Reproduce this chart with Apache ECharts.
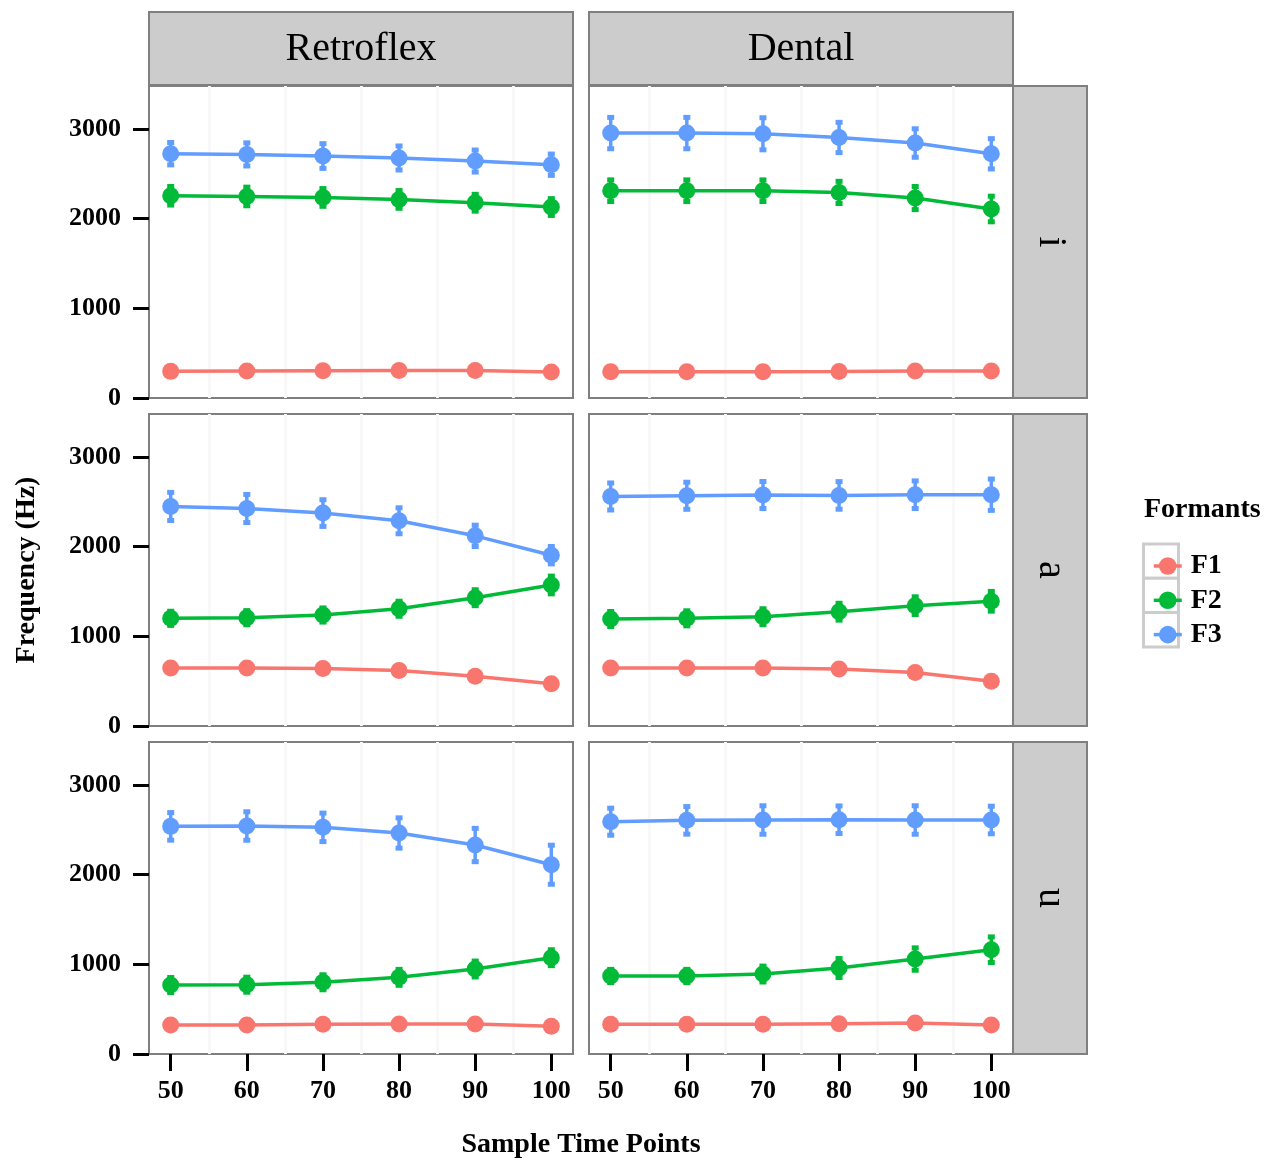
<!DOCTYPE html>
<html><head><meta charset="utf-8">
<script src="https://cdn.jsdelivr.net/npm/echarts@6/dist/echarts.min.js"></script>
<style>html,body{margin:0;padding:0;background:#fff}#c{width:1278px;height:1161px}</style>
</head><body><div id="c"></div>
<script>
// ---- data ----
const timePoints = [50, 60, 70, 80, 90, 100];
const places = ['Retroflex', 'Dental'];
const vowels = ['i', 'a', 'u'];
const formants = ['F1', 'F2', 'F3'];
const yTicks = [0, 1000, 2000, 3000];
const xTicks = [50, 60, 70, 80, 90, 100];
const minorGridX = [55, 65, 75, 85, 95];

// means (Hz)
const retroflexI_F1 = [297, 301, 304, 308, 308, 290];
const retroflexI_F2 = [2256, 2248, 2237, 2215, 2178, 2130];
const retroflexI_F3 = [2725, 2717, 2699, 2677, 2643, 2602];
const dentalI_F1 = [293, 292, 293, 296, 302, 300];
const dentalI_F2 = [2312, 2312, 2312, 2293, 2230, 2108];
const dentalI_F3 = [2955, 2955, 2947, 2906, 2844, 2724];
const retroflexA_F1 = [648, 648, 642, 619, 556, 470];
const retroflexA_F2 = [1201, 1208, 1238, 1308, 1431, 1573];
const retroflexA_F3 = [2449, 2426, 2375, 2289, 2121, 1905];
const dentalA_F1 = [648, 648, 648, 637, 597, 500];
const dentalA_F2 = [1193, 1201, 1219, 1275, 1342, 1391];
const dentalA_F3 = [2560, 2568, 2576, 2572, 2580, 2580];
const retroflexU_F1 = [323, 323, 331, 335, 335, 309];
const retroflexU_F2 = [769, 773, 800, 855, 948, 1074];
const retroflexU_F3 = [2539, 2543, 2528, 2465, 2331, 2111];
const dentalU_F1 = [331, 331, 331, 338, 346, 323];
const dentalU_F2 = [870, 870, 892, 959, 1059, 1163];
const dentalU_F3 = [2591, 2606, 2610, 2613, 2610, 2610];

// error half-widths (Hz)
const retroflexI_F1_err = [30, 30, 30, 30, 30, 30];
const retroflexI_F2_err = [115, 115, 110, 110, 105, 105];
const retroflexI_F3_err = [136, 140, 149, 145, 134, 130];
const dentalI_F1_err = [30, 30, 30, 30, 30, 30];
const dentalI_F2_err = [132, 132, 132, 135, 140, 154];
const dentalI_F3_err = [186, 186, 190, 180, 170, 180];
const retroflexA_F1_err = [30, 30, 30, 30, 30, 30];
const retroflexA_F2_err = [90, 90, 90, 95, 100, 110];
const retroflexA_F3_err = [168, 168, 160, 156, 130, 108];
const dentalA_F1_err = [30, 30, 30, 30, 30, 30];
const dentalA_F2_err = [95, 95, 100, 105, 110, 121];
const dentalA_F3_err = [162, 162, 162, 165, 165, 186];
const retroflexU_F1_err = [30, 30, 30, 30, 30, 30];
const retroflexU_F2_err = [95, 95, 95, 100, 100, 100];
const retroflexU_F3_err = [165, 170, 170, 180, 197, 229];
const dentalU_F1_err = [30, 30, 30, 30, 30, 30];
const dentalU_F2_err = [85, 85, 100, 117, 136, 154];
const dentalU_F3_err = [162, 165, 170, 165, 170, 165];

// lookup tables built from the arrays above
const means = {
  Retroflex_i: [retroflexI_F1, retroflexI_F2, retroflexI_F3],
  Dental_i: [dentalI_F1, dentalI_F2, dentalI_F3],
  Retroflex_a: [retroflexA_F1, retroflexA_F2, retroflexA_F3],
  Dental_a: [dentalA_F1, dentalA_F2, dentalA_F3],
  Retroflex_u: [retroflexU_F1, retroflexU_F2, retroflexU_F3],
  Dental_u: [dentalU_F1, dentalU_F2, dentalU_F3]
};
const errs = {
  Retroflex_i: [retroflexI_F1_err, retroflexI_F2_err, retroflexI_F3_err],
  Dental_i: [dentalI_F1_err, dentalI_F2_err, dentalI_F3_err],
  Retroflex_a: [retroflexA_F1_err, retroflexA_F2_err, retroflexA_F3_err],
  Dental_a: [dentalA_F1_err, dentalA_F2_err, dentalA_F3_err],
  Retroflex_u: [retroflexU_F1_err, retroflexU_F2_err, retroflexU_F3_err],
  Dental_u: [dentalU_F1_err, dentalU_F2_err, dentalU_F3_err]
};

// ---- style / layout ----
const colors = ['#F8766D', '#00BA38', '#619CFF'];
const FONT = '"Liberation Serif", "Times New Roman", serif';
const colLeft = [149, 589];
const rowTop = [86, 414, 742];
const PW = 424, PH = 312;
const STRIP_RIGHT_X = 1013, STRIP_RIGHT_W = 74;

const grids = [], xAxes = [], yAxes = [], series = [], graphics = [];

vowels.forEach((v, r) => {
  places.forEach((p, c) => {
    const idx = r * 2 + c;
    grids.push({
      left: colLeft[c], top: rowTop[r], width: PW, height: PH,
      show: true, backgroundColor: '#fff', borderColor: '#7f7f7f', borderWidth: 2
    });
    const bottomRow = r === 2;
    xAxes.push({
      type: 'value', gridIndex: idx, min: 47.15, max: 102.85,
      axisLine: { show: false },
      splitLine: { show: false },
      minorTick: { show: false },
      axisTick: { show: bottomRow, customValues: xTicks, length: 17, lineStyle: { color: '#000', width: 3 } },
      axisLabel: { show: bottomRow, customValues: xTicks, margin: 24, color: '#000',
        fontFamily: FONT, fontWeight: 'bold', fontSize: 26, formatter: val => String(val) }
    });
    const leftCol = c === 0;
    yAxes.push({
      type: 'value', gridIndex: idx, min: 0, max: 3480,
      axisLine: { show: false },
      splitLine: { show: false },
      axisTick: { show: leftCol, customValues: yTicks, length: 16, lineStyle: { color: '#000', width: 3 } },
      axisLabel: { show: leftCol, customValues: yTicks, margin: 28, color: '#000',
        fontFamily: FONT, fontWeight: 'bold', fontSize: 26, formatter: val => String(val) }
    });
    const key = p + '_' + v;
    formants.forEach((f, k) => {
      const m = means[key][k], e = errs[key][k];
      const col = colors[k];
      // error bars
      series.push({
        type: 'custom', name: f + ' err', xAxisIndex: idx, yAxisIndex: idx, z: 2,
        silent: true,
        data: timePoints.map((t, i) => [t, m[i] - e[i], m[i] + e[i]]),
        renderItem: (params, api) => {
          const x = api.value(0);
          const pLo = api.coord([x, api.value(1)]);
          const pHi = api.coord([x, api.value(2)]);
          const w = 3.5;
          return { type: 'group', children: [
            { type: 'line', shape: { x1: pLo[0], y1: pLo[1], x2: pHi[0], y2: pHi[1] }, style: { stroke: col, lineWidth: 3.5 } },
            { type: 'line', shape: { x1: pLo[0] - w, y1: pLo[1] - 1, x2: pLo[0] + w, y2: pLo[1] - 1 }, style: { stroke: col, lineWidth: 5 } },
            { type: 'line', shape: { x1: pHi[0] - w, y1: pHi[1] + 1, x2: pHi[0] + w, y2: pHi[1] + 1 }, style: { stroke: col, lineWidth: 5 } }
          ] };
        }
      });
      const s = {
        type: 'line', name: f, xAxisIndex: idx, yAxisIndex: idx, z: 3,
        data: timePoints.map((t, i) => [t, m[i]]),
        symbol: 'circle', symbolSize: 17, showSymbol: true,
        lineStyle: { color: col, width: 3.5 },
        itemStyle: { color: col },
        animation: false, silent: true
      };
      if (k === 0) {
        s.markLine = {
          silent: true, symbol: 'none', animation: false, z: 0,
          label: { show: false },
          lineStyle: { color: '#f8f8f8', width: 3, type: 'solid' },
          data: minorGridX.map(xv => ({ xAxis: xv }))
        };
      }
      series.push(s);
    });
  });
});

// strips (top)
places.forEach((p, c) => {
  graphics.push({ type: 'rect', z: 10, shape: { x: colLeft[c], y: 12, width: PW, height: 73 },
    style: { fill: '#cccccc', stroke: '#7f7f7f', lineWidth: 2 } });
  graphics.push({ type: 'text', z: 11, x: colLeft[c] + PW / 2, y: 49,
    style: { text: p, font: '40px ' + FONT, fill: '#000', align: 'center', verticalAlign: 'middle' } });
});
// strips (right)
vowels.forEach((v, r) => {
  graphics.push({ type: 'rect', z: 10, shape: { x: STRIP_RIGHT_X, y: rowTop[r], width: STRIP_RIGHT_W, height: PH },
    style: { fill: '#cccccc', stroke: '#7f7f7f', lineWidth: 2 } });
  graphics.push({ type: 'text', z: 11, x: STRIP_RIGHT_X + STRIP_RIGHT_W / 2, y: rowTop[r] + PH / 2,
    rotation: -Math.PI / 2,
    style: { text: v, font: '40px ' + FONT, fill: '#000', align: 'center', verticalAlign: 'middle' } });
});
// axis titles
graphics.push({ type: 'text', x: 581, y: 1145,
  style: { text: 'Sample Time Points', font: 'bold 28px ' + FONT, fill: '#000', align: 'center', verticalAlign: 'middle' } });
graphics.push({ type: 'text', x: 27, y: 570, rotation: Math.PI / 2,
  style: { text: 'Frequency (Hz)', font: 'bold 28px ' + FONT, fill: '#000', align: 'center', verticalAlign: 'middle' } });
// legend title + key boxes
graphics.push({ type: 'text', x: 1144, y: 510,
  style: { text: 'Formants', font: 'bold 28px ' + FONT, fill: '#000', align: 'left', verticalAlign: 'middle' } });
formants.forEach((f, k) => {
  graphics.push({ type: 'rect', z: -1, shape: { x: 1143.5, y: 544 + 34.3 * k, width: 35, height: 34.3 },
    style: { fill: '#ffffff', stroke: '#cccccc', lineWidth: 3 } });
});

const chart = echarts.init(document.getElementById('c'), null, { renderer: 'canvas' });
chart.setOption({
  backgroundColor: '#fff',
  animation: false,
  grid: grids, xAxis: xAxes, yAxis: yAxes,
  legend: {
    data: formants, orient: 'vertical', left: 1147, top: 546,
    itemWidth: 28, itemHeight: 22, itemGap: 4.3,
    itemStyle: { borderWidth: 0 },
    lineStyle: { width: 3.5 },
    textStyle: { fontFamily: FONT, fontWeight: 'bold', fontSize: 28, color: '#000', lineHeight: 30, padding: [0, 0, 0, 4] },
    selectedMode: false
  },
  graphic: graphics,
  series: series
});
</script></body></html>
